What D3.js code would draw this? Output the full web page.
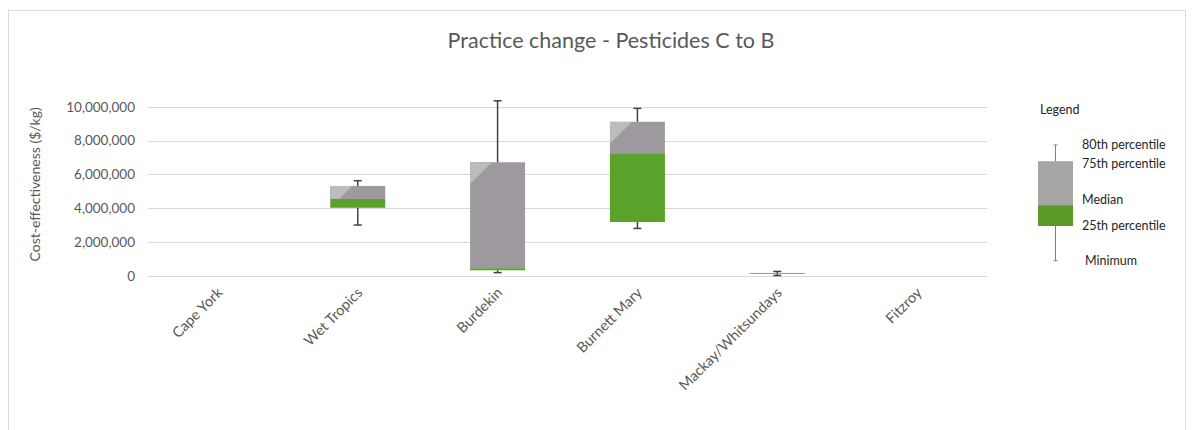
<!DOCTYPE html>
<html>
<head>
<meta charset="utf-8">
<script src="https://cdn.jsdelivr.net/npm/d3@7"></script>
<style>
  html, body { margin: 0; padding: 0; background: #fff; }
  svg { display: block; font-family: "Lato", "Open Sans", sans-serif; }
</style>
</head>
<body>
<svg id="chart" width="1203" height="430"></svg>
<script>
// ---- data ----
const categories = ["Cape York", "Wet Tropics", "Burdekin", "Burnett Mary", "Mackay/Whitsundays", "Fitzroy"];
const minimum   = [null, 3010000,  200000, 2810000,  30000, null];
const p25       = [null, 4030000,  340000, 3190000, 140000, null];
const median    = [null, 4550000,  460000, 7250000, 160000, null];
const p75       = [null, 5320000, 6720000, 9110000, 180000, null];
const p80       = [null, 5630000,10350000, 9900000, 270000, null];
const yTicks    = [0, 2000000, 4000000, 6000000, 8000000, 10000000];
const title     = "Practice change - Pesticides C to B";
const yTitle    = "Cost-effectiveness ($/kg)";
const legendTitle  = "Legend";
const legendLabels = ["80th percentile", "75th percentile", "Median", "25th percentile", "Minimum"];
const legendSample = { min: 0, p25: 30, median: 48, p75: 86, p80: 100 };
const legendLabelAt = [100, 84, 53, 30, 0];

// ---- layout ----
const svg = d3.select("#chart");
const plot = { left: 148, right: 987, top: 106.7, bottom: 276 };

const GRAY = "#9e999e", LIGHT = "#bcbcbc", GREEN = "#5aa22a", WHISK = "#3f4440", TXT = "#595959";

svg.append("rect").attr("x", 8.5).attr("y", 10.5).attr("width", 1177).attr("height", 440)
  .attr("fill", "#fff").attr("stroke", "#d9d9d9").attr("stroke-width", 1);

const x = d3.scaleBand().domain(categories).range([plot.left, plot.right]).paddingInner(0).paddingOuter(0);
const y = d3.scaleLinear().domain([0, 10000000]).range([plot.bottom, plot.top]);

// gridlines
svg.append("g").selectAll("line").data(yTicks).join("line")
  .attr("x1", plot.left).attr("x2", plot.right)
  .attr("y1", d => Math.round(y(d)) + 0.5).attr("y2", d => Math.round(y(d)) + 0.5)
  .attr("stroke", "#d9d9d9").attr("stroke-width", 1);

// y axis labels
const yAxis = d3.axisLeft(y).tickValues(yTicks).tickSize(0).tickPadding(0)
  .tickFormat(d3.format(",d"));
const ya = svg.append("g").attr("transform", `translate(${plot.left - 13},0)`).call(yAxis);
ya.select(".domain").remove();
ya.selectAll("text").attr("fill", TXT).style("font-size", "13.5px").style("font-family", "Lato, sans-serif");

// x labels
svg.append("g").selectAll("text").data(categories).join("text")
  .attr("transform", d => `translate(${x(d) + x.bandwidth() / 2 + 2},${plot.bottom + 14}) rotate(-45)`)
  .attr("text-anchor", "end").attr("dy", "0.35em")
  .attr("fill", TXT).style("font-size", "14.5px")
  .text(d => d);

// title
svg.append("text").attr("x", 611).attr("y", 48).attr("text-anchor", "middle")
  .attr("fill", TXT).style("font-size", "21.5px").text(title);

// y title
svg.append("text").attr("transform", `translate(40,${(plot.top + plot.bottom) / 2 - 7}) rotate(-90)`)
  .attr("text-anchor", "middle").attr("fill", TXT).style("font-size", "14px").text(yTitle);

// boxes
const rows = categories.map((c, i) => ({ c, i, min: minimum[i], q1: p25[i], med: median[i], q3: p75[i], max: p80[i] }))
  .filter(d => d.min !== null);
const bw = 55;
const defs = svg.append("defs");
const boxes = svg.append("g").selectAll("g").data(rows).join("g");

boxes.each(function (d) {
  const g = d3.select(this);
  const cx = x(d.c) + x.bandwidth() / 2;
  const x0 = cx - bw / 2;
  const yq3 = y(d.q3), ymed = y(d.med), yq1 = y(d.q1);
  const clipId = "clip" + d.i;
  defs.append("clipPath").attr("id", clipId).append("rect")
    .attr("x", x0).attr("y", yq3).attr("width", bw).attr("height", Math.max(0, ymed - yq3));
  g.append("rect").attr("x", x0).attr("y", yq3).attr("width", bw).attr("height", Math.max(0.6, ymed - yq3))
    .attr("fill", GRAY);
  g.append("polygon").attr("clip-path", `url(#${clipId})`)
    .attr("points", `${x0},${yq3} ${x0 + 22},${yq3} ${x0},${yq3 + 22}`).attr("fill", LIGHT);
  g.append("rect").attr("x", x0).attr("y", ymed).attr("width", bw).attr("height", Math.max(0.6, yq1 - ymed))
    .attr("fill", GREEN);
  const cap = 4;
  g.append("line").attr("x1", cx).attr("x2", cx).attr("y1", y(d.max)).attr("y2", yq3)
    .attr("stroke", WHISK).attr("stroke-width", 1.5);
  g.append("line").attr("x1", cx).attr("x2", cx).attr("y1", yq1).attr("y2", y(d.min))
    .attr("stroke", WHISK).attr("stroke-width", 1.5);
  [d.max, d.min].forEach(v => {
    g.append("line").attr("x1", cx - cap).attr("x2", cx + cap).attr("y1", y(v)).attr("y2", y(v))
      .attr("stroke", WHISK).attr("stroke-width", 1.5);
  });
});

// legend
const lg = svg.append("g");
const ly = d3.scaleLinear().domain([0, 100]).range([260.7, 145]);
const lcx = 1055.5, lbw = 35;
lg.append("text").attr("x", 1040).attr("y", 114).attr("fill", "#262626").style("font-size", "12.5px").text(legendTitle);
lg.append("line").attr("x1", lcx).attr("x2", lcx).attr("y1", ly(legendSample.p80)).attr("y2", ly(legendSample.min))
  .attr("stroke", "#7f7f7f").attr("stroke-width", 1);
[legendSample.p80, legendSample.min].forEach(v => {
  lg.append("line").attr("x1", lcx - 2).attr("x2", lcx + 2).attr("y1", ly(v)).attr("y2", ly(v))
    .attr("stroke", "#7f7f7f").attr("stroke-width", 1);
});
lg.append("rect").attr("x", lcx - lbw / 2).attr("y", ly(legendSample.p75)).attr("width", lbw)
  .attr("height", ly(legendSample.median) - ly(legendSample.p75)).attr("fill", "#a6a6a6");
lg.append("rect").attr("x", lcx - lbw / 2).attr("y", ly(legendSample.median)).attr("width", lbw)
  .attr("height", ly(legendSample.p25) - ly(legendSample.median)).attr("fill", "#5a9a25");
lg.selectAll("text.ll").data(legendLabels).join("text").attr("class", "ll")
  .attr("x", (d, i) => i === 4 ? 1085 : 1082).attr("y", (d, i) => ly(legendLabelAt[i]))
  .attr("dy", "0.35em").attr("fill", "#262626").style("font-size", "12.5px").text(d => d);
</script>
</body>
</html>
